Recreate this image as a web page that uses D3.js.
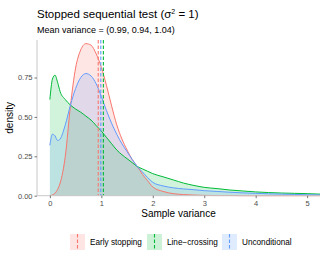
<!DOCTYPE html>
<html>
<head>
<meta charset="utf-8">
<script src="https://cdn.jsdelivr.net/npm/d3@7"></script>
<style>
  body { margin: 0; background: #fff; }
  text { font-family: "Liberation Sans", Arial, sans-serif; }
</style>
</head>
<body>
<div id="chart"></div>
<script>
// sample variance grid and the three density estimates
const xs = [0, 0.05, 0.1, 0.15, 0.2, 0.3, 0.4, 0.5, 0.6, 0.7, 0.8, 0.9, 1.0, 1.1, 1.2, 1.3, 1.4, 1.5, 1.6, 1.7, 1.8, 1.9, 2.0, 2.2, 2.4, 2.6, 2.8, 3.0, 3.25, 3.5, 3.75, 4.0, 4.25, 4.5, 4.75, 5.0, 5.25];
const early = [0, 0.005, 0.015, 0.04, 0.08, 0.25, 0.57, 0.81, 0.925, 0.965, 0.955, 0.90, 0.815, 0.70, 0.57, 0.45, 0.36, 0.29, 0.23, 0.185, 0.135, 0.095, 0.055, 0.027, 0.013, 0.007, 0.004, 0.002, 0.001, 0.001, 0, 0, 0, 0, 0, 0, 0];
const crossing = [0.61, 0.74, 0.765, 0.72, 0.66, 0.61, 0.575, 0.55, 0.53, 0.505, 0.48, 0.445, 0.41, 0.37, 0.33, 0.29, 0.26, 0.235, 0.21, 0.185, 0.17, 0.155, 0.14, 0.12, 0.10, 0.08, 0.065, 0.053, 0.045, 0.036, 0.03, 0.024, 0.02, 0.017, 0.015, 0.013, 0.01];
const uncond = [0.32, 0.39, 0.38, 0.35, 0.36, 0.45, 0.575, 0.68, 0.75, 0.775, 0.76, 0.71, 0.63, 0.54, 0.46, 0.39, 0.33, 0.28, 0.23, 0.185, 0.15, 0.115, 0.085, 0.062, 0.05, 0.043, 0.038, 0.032, 0.027, 0.022, 0.018, 0.015, 0.012, 0.01, 0.008, 0.006, 0.005];

const groups = ["Early stopping", "Line\u2212crossing", "Unconditional"];
const colors = ["#F8766D", "#00BA38", "#619CFF"];
const means = [0.94, 1.04, 0.99];
const xTicks = [0, 1, 2, 3, 4, 5];
const yTicks = [0, 0.25, 0.5, 0.75];

const W = 325, H = 260;
const pLeft = 37, pRight = 320, pTop = 40, pBottom = 195.7;

const svg = d3.select("#chart").append("svg")
    .attr("width", W).attr("height", H);

const x = d3.scaleLinear().domain([-0.25, 5.25]).range([pLeft, pRight]);
const y = d3.scaleLinear().domain([0, 0.988]).range([pBottom, pTop]);

const series = [early, crossing, uncond];

const area = d3.area()
    .x((d, i) => x(xs[i]))
    .y0(y(0))
    .y1(d => y(d))
    .curve(d3.curveMonotoneX);
const line = d3.line()
    .x((d, i) => x(xs[i]))
    .y(d => y(d))
    .curve(d3.curveMonotoneX);

series.forEach((s, k) => {
  svg.append("path").datum(s)
      .attr("d", area)
      .attr("fill", colors[k])
      .attr("fill-opacity", 0.18);
});
series.forEach((s, k) => {
  svg.append("path").datum(s)
      .attr("d", line)
      .attr("fill", "none")
      .attr("stroke", colors[k])
      .attr("stroke-width", 1);
});

// mean lines
means.forEach((m, k) => {
  svg.append("line")
      .attr("x1", x(m)).attr("x2", x(m))
      .attr("y1", pTop).attr("y2", pBottom)
      .attr("stroke", colors[k])
      .attr("stroke-width", 1.1)
      .attr("stroke-dasharray", "3.5,2");
});

// axes
const xAxis = svg.append("g")
    .attr("transform", `translate(0,${pBottom})`)
    .call(d3.axisBottom(x).tickValues(xTicks).tickSize(2.5).tickPadding(2).tickFormat(d3.format("d")));
const yAxis = svg.append("g")
    .attr("transform", `translate(${pLeft},0)`)
    .call(d3.axisLeft(y).tickValues(yTicks).tickSize(2.5).tickPadding(2).tickFormat(d3.format(".2f")));
xAxis.select(".domain").attr("d", `M${pLeft},0H${pRight}`);
yAxis.select(".domain").attr("d", `M0,${pTop}V${pBottom}`);
[xAxis, yAxis].forEach(a => {
  a.select(".domain").attr("stroke", "#c8c8c8").attr("stroke-width", 1);
  a.selectAll(".tick line").attr("stroke", "#555").attr("stroke-width", 0.8);
  a.selectAll(".tick text").attr("fill", "#4d4d4d").style("font-size", "7.5px")
      .style("font-family", "Liberation Sans, Arial, sans-serif");
});

// titles
svg.append("text").attr("x", 37).attr("y", 18)
    .style("font-size", "11.5px").attr("fill", "#000")
    .html('Stopped sequential test (\u03C3<tspan dy="-4" font-size="7px">2</tspan><tspan dy="4"> = 1)</tspan>');
svg.append("text").attr("x", 37).attr("y", 33)
    .style("font-size", "9px").attr("fill", "#000")
    .text("Mean variance = (0.99, 0.94, 1.04)");
svg.append("text")
    .attr("transform", `translate(13,${(pTop + pBottom) / 2}) rotate(-90)`)
    .attr("text-anchor", "middle")
    .style("font-size", "10px")
    .text("density");
svg.append("text")
    .attr("x", (pLeft + pRight) / 2).attr("y", 217)
    .attr("text-anchor", "middle")
    .style("font-size", "10px")
    .text("Sample variance");

// legend
const keyX = [70, 147, 222];
groups.forEach((g, k) => {
  const lg = svg.append("g").attr("transform", `translate(${keyX[k]},234)`);
  lg.append("rect").attr("width", 15).attr("height", 16)
      .attr("fill", colors[k]).attr("fill-opacity", 0.2);
  lg.append("line").attr("x1", 7.5).attr("x2", 7.5).attr("y1", 0).attr("y2", 16)
      .attr("stroke", colors[k]).attr("stroke-width", 1.1)
      .attr("stroke-dasharray", "3.5,2");
  lg.append("text").attr("x", 20).attr("y", 11)
      .style("font-size", "8.2px").attr("fill", "#000")
      .text(g);
});
</script>
</body>
</html>
